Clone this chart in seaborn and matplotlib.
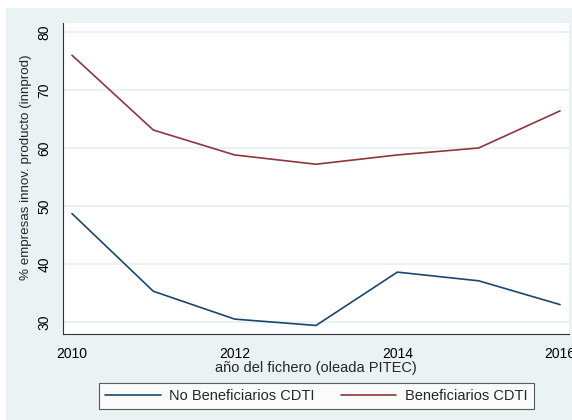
import numpy as np
import pandas as pd
import matplotlib
matplotlib.use("Agg")
import matplotlib.pyplot as plt
import seaborn as sns

# data
years = [2010, 2011, 2012, 2013, 2014, 2015, 2016]
no_benef = [48.7, 35.3, 30.5, 29.4, 38.6, 37.1, 33.0]
benef = [76.0, 63.1, 58.8, 57.2, 58.8, 60.0, 66.4]
series_names = ["No Beneficiarios CDTI", "Beneficiarios CDTI"]
yticks = [30, 40, 50, 60, 70, 80]
xticks = [2010, 2012, 2014, 2016]

df = pd.DataFrame({
    "year": years * 2,
    "pct": no_benef + benef,
    "grupo": [series_names[0]] * len(years) + [series_names[1]] * len(years),
})

sns.set_style("white")
plt.rcParams["font.family"] = ["Liberation Sans", "DejaVu Sans"]

bg = "#EAF2F3"
fig = plt.figure(figsize=(5.72, 4.2), dpi=100)
fig.patch.set_facecolor("white")
# stata-like outer background, leaves a thin white margin top/left
fig.add_artist(plt.Rectangle((6 / 572, 0), 1, 1 - 8 / 420, transform=fig.transFigure,
                             facecolor=bg, edgecolor="none", zorder=-10))

ax = fig.add_axes([63 / 572, 1 - 334 / 420, (569 - 63) / 572, (334 - 23) / 420])
ax.set_facecolor("white")

sns.lineplot(data=df, x="year", y="pct", hue="grupo", hue_order=series_names,
             palette=["#1A476F", "#90353B"], linewidth=1.2, ax=ax, legend=False)

ax.set_xlim(2009.89, 2016.11)
ax.set_ylim(27.93, 81.55)
ax.set_xticks(xticks)
ax.set_yticks(yticks)
ax.set_yticklabels([str(t) for t in yticks], rotation=90, va="center")

ax.yaxis.grid(True, color=bg, linewidth=1.5)
ax.xaxis.grid(False)
ax.set_axisbelow(True)

for s in ["top", "right"]:
    ax.spines[s].set_visible(False)
for s in ["left", "bottom"]:
    ax.spines[s].set_color("#333333")
    ax.spines[s].set_linewidth(0.8)

ax.tick_params(axis="both", direction="out", length=5, width=0.8, color="#333333",
               labelsize=10, labelcolor="black")
ax.tick_params(axis="y", pad=3.5)
ax.tick_params(axis="x", pad=4)

ax.set_xlabel("año del fichero (oleada PITEC)", fontsize=10.5, labelpad=0.5)
ax.set_ylabel("% empresas innov. producto (innprod)", fontsize=9.6)
ax.yaxis.set_label_coords(-31 / 506, (334 - 167.5) / 311)

handles = [plt.Line2D([], [], color="#1A476F", lw=1.2),
           plt.Line2D([], [], color="#90353B", lw=1.2)]
leg = fig.legend(handles, series_names, loc="center", bbox_to_anchor=(316.5 / 572, 1 - 396 / 420),
                 ncol=2, fontsize=10.5, frameon=True, fancybox=False, handlelength=3.8,
                 handletextpad=0.6, columnspacing=1.8, borderpad=0.4)
leg.get_frame().set_edgecolor("#333333")
leg.get_frame().set_linewidth(0.8)
leg.get_frame().set_facecolor("white")

fig.savefig("out.png", dpi=100, facecolor=fig.get_facecolor())
